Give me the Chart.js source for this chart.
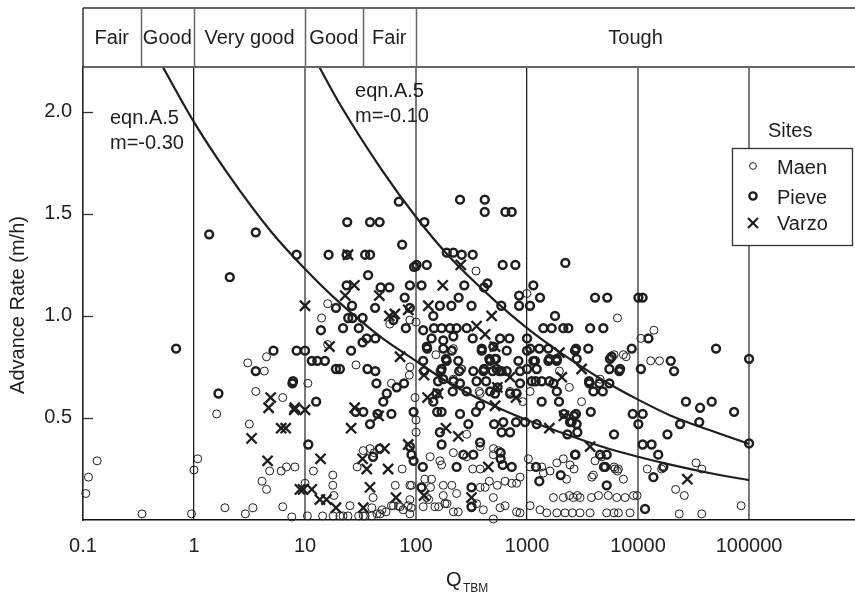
<!DOCTYPE html>
<html><head><meta charset="utf-8"><title>Advance rate vs Q_TBM</title>
<script src="https://cdn.jsdelivr.net/npm/chart.js@4.4.0/dist/chart.umd.min.js"></script>
<style>html,body{margin:0;background:#fff}#wrap{width:855px;height:597px;position:relative}</style>
</head><body><div id="wrap"><canvas id="c"></canvas></div>
<script>
// Advance rate vs Q_TBM (log), sites Maen / Pieve / Varzo + two eqn.A.5 curves
const X_TICKS=[0.1,1,10,100,1000,10000,100000];
const X_TICK_LABELS=['0.1','1','10','100','1000','10000','100000'];
const Y_TICKS=[0.5,1.0,1.5,2.0];
const HEAD_BOUNDS=[0.1,0.33,1,10,33,100,900000];
const HEAD_LABELS=['Fair','Good','Very good','Good','Fair','Tough'];

// curves
const LOW_Q=[0.5,1,2,5,10,20,50,100,200,500,1000,2000,5000,10000,20000,50000,100000];
const LOW_RATE=[2.24,1.95,1.70,1.41,1.23,1.07,0.89,0.78,0.67,0.56,0.49,0.43,0.355,0.31,0.27,0.224,0.195];
const UP_Q=[12,20,50,100,200,500,1000,2000,5000,10000,20000,50000,100000];
const UP_RATE=[2.27,2.05,1.71,1.485,1.29,1.08,0.94,0.82,0.68,0.59,0.51,0.43,0.373];

// [Q, advance rate]
const MAEN=[[0.134,0.29],[0.112,0.21],[0.106,0.13],[0.34,0.03],[0.95,0.03],[1.08,0.30],[1.0,0.245],[1.6,0.52],[1.9,0.06],[3.6,0.63],[3.15,0.47],[2.9,0.03],[3.4,0.06],[4.1,0.19],[4.5,0.15],[4.8,0.24],[6.3,0.60],[6.1,0.24],[6.8,0.26],[8.1,0.26],[6.3,0.065],[7.6,0.015],[3.05,0.77],[4.5,0.80],[4.3,0.73],
[10.6,0.67],[16,1.06],[14.1,0.99],[16,0.86],[28.8,0.76],[60,0.67],[58,0.96],[88,0.75],[87,0.71],[98,0.60],[100,0.49],[100,0.43],[88,0.98],[88,0.17],[88,0.10],
[10,0.18],[11.9,0.24],[17.8,0.22],[17.8,0.17],[18.2,0.12],[29.5,0.26],[33.5,0.34],[38.5,0.35],[42,0.33],[75,0.25],[65,0.17],[91,0.17],[41,0.11],
[10.5,0.02],[14.4,0.02],[17.9,0.02],[20.6,0.02],[22,0.02],[24.4,0.02],[30.4,0.02],[33.5,0.02],[34.8,0.02],[40,0.02],[47.5,0.03],[25.4,0.07],[40,0.06],[44.5,0.03],[49.4,0.05],[53.7,0.04],[60,0.07],[62.5,0.07],[69.5,0.07],[71.8,0.065],[76.5,0.05],[85,0.07],[88,0.03],[90.5,0.06],
[100,1.24],[347,1.22],[996,1.11],[100,0.97],[151,0.81],[217,0.84],[258,0.74],[371,0.63],[703,0.63],[254,0.74],[217,0.69],[378,0.62],[913,0.58],[286,0.42],[378,0.36],[498,0.35],[217,0.33],[286,0.31],[134,0.31],[164,0.29],[170,0.27],[324,0.25],[378,0.25],[497,0.32],[552,0.34],
[120,0.20],[138,0.20],[176,0.17],[210,0.17],[232,0.13],[135,0.16],[176,0.12],[378,0.16],[419,0.16],[457,0.19],[540,0.17],[634,0.19],[728,0.18],[805,0.18],[865,0.21],[497,0.11],[634,0.07],[805,0.04],
[116,0.065],[148,0.065],[182,0.08],[217,0.04],[316,0.06],[351,0.08],[404,0.05],[571,0.06],[865,0.035],[497,0.005],[125,0.11],[130,0.10],[160,0.065],[190,0.08],[240,0.04],
[1064,0.63],[1750,0.67],[1955,0.73],[2404,0.65],[6520,0.99],[3100,0.58],[4550,0.69],[6080,0.81],[7380,0.81],[7800,0.80],[1028,0.30],[1064,0.26],[1355,0.26],[1403,0.23],[1610,0.24],[1855,0.28],[2122,0.30],[2437,0.27],[2270,0.20],[2650,0.25],[1064,0.07],[1309,0.05],
[1503,0.035],[1855,0.035],[2198,0.035],[2560,0.035],[3000,0.035],[3700,0.035],[5220,0.035],[6080,0.035],[6650,0.035],[8470,0.035],
[1726,0.11],[2122,0.11],[2404,0.12],[2612,0.11],[2840,0.12],[3000,0.11],[3800,0.11],[4400,0.12],[5390,0.12],[6430,0.11],[7640,0.11],[9100,0.12],[9800,0.12],
[7380,0.20],[6080,0.26],[6650,0.25],[3830,0.21],[3960,0.22],[4710,0.31],[4100,0.29],[6200,0.25],[6520,0.24],
[13900,0.93],[10600,0.89],[13000,0.78],[15600,0.78],[33300,0.28],[37500,0.25],[12100,0.25],[16300,0.25],[21800,0.15],[26100,0.12],[84800,0.07],[23500,0.03],[37500,0.03]];

const PIEVE=[[0.69,0.84],[1.37,1.40],[3.6,1.41],[2.1,1.19],[1.66,0.62],[7.7,0.67],[8.4,1.30],[5.2,0.83],[8.4,0.83],[10,0.83],[3.6,0.73],[7.8,0.68],
[24,1.46],[38.5,1.46],[47,1.46],[75,1.35],[16.3,1.30],[23.7,1.30],[34.8,1.30],[38.5,1.30],[37,1.20],[23.7,1.15],[48,1.14],[57.5,1.14],[88,1.15],[19,1.04],[26.5,1.05],[24.5,0.99],[26.7,0.99],[33,0.99],[42.8,1.04],[22,0.94],[30.5,0.94],[13.9,0.93],[79,1.09],[88,1.04],[62.5,0.98],[81,0.94],[96,1.24],
[11.5,0.78],[12.9,0.78],[15.1,0.78],[33,0.87],[36,0.89],[43,0.89],[26,0.83],[19,0.74],[20.6,0.74],[36.5,0.74],[43,0.73],[44,0.67],[12.6,0.58],[54.5,0.62],[67,0.65],[78,0.67],[50.7,0.58],[28.6,0.53],[33.5,0.53],[38.5,0.47],[60,0.52],[45,0.52],[95,0.53],[10.7,0.37],[47,0.35],[41,0.31],[91,0.32],[88,0.36],[70,1.56],[95,0.29],[112,0.16],
[119,1.46],[101,1.25],[125,1.25],[189,1.31],[217,1.31],[258,1.30],[324,1.30],[603,1.25],[785,1.25],[249,1.57],[416,1.57],[416,1.51],[638,1.51],[728,1.51],[112,1.15],[272,1.15],[410,1.14],[440,1.16],[242,1.09],[164,1.05],[208,1.05],[316,1.05],[586,1.05],[848,1.10],[848,1.05],[143,1.0],
[116,0.93],[145,0.94],[170,0.94],[202,0.94],[232,0.94],[286,0.94],[324,0.89],[391,0.83],[571,0.89],[693,0.89],[1000,0.89],[1000,0.83],[138,0.89],[176,0.88],[217,0.90],[125,0.85],[176,0.84],[210,0.83],[497,0.85],[656,0.83],[836,0.78],[116,0.78],[189,0.78],[240,0.78],[328,0.73],[404,0.73],[532,0.74],[589,0.73],[865,0.73],[170,0.74],[176,0.69],[217,0.68],[249,0.67],[214,0.63],[286,0.63],[153,0.62],[465,0.63],[515,0.62],
[126,0.84],[391,0.84],[457,0.79],[515,0.79],[186,0.79],[410,0.74],[465,0.78],[525,0.79],[118,0.73],[167,0.73],[245,0.73],[490,0.73],[562,0.73],[656,0.73],[158,0.68],[351,0.68],[428,0.68],[543,0.65],[703,0.62],[805,0.62],[865,0.67],[143,0.58],[155,0.53],[170,0.53],[249,0.52],[347,0.53],[378,0.56],[505,0.47],[611,0.48],[796,0.48],[959,0.48],[164,0.43],[296,0.47],[378,0.38],[590,0.43],[703,0.43],[170,0.37],[267,0.32],[328,0.32],[578,0.33],[578,0.30],[603,0.27],[728,0.26],[115,0.26],[232,0.26],[316,0.16],[316,0.065],
[1064,1.05],[1309,1.09],[1140,1.15],[1786,1.0],[1403,0.94],[1667,0.94],[2122,0.94],[2355,0.94],[1180,0.78],[1556,0.78],[1853,0.78],[2704,0.83],[1102,0.68],[1355,0.68],[2213,1.26],[4100,1.09],[5280,1.09],[3700,0.94],[4870,0.94],[1070,0.84],[1290,0.84],[1556,0.84],[1855,0.79],[2760,0.84],[3560,0.84],[8770,0.84],[1140,0.78],[1222,0.74],[1588,0.79],[2800,0.79],[5580,0.79],[6770,0.73],[5780,0.80],[1000,0.74],[1195,0.68],[1588,0.68],[1726,0.67],[1855,0.63],[3620,0.68],[3960,0.63],[4810,0.63],[5520,0.74],
[1355,0.58],[1940,0.58],[2150,0.52],[1222,0.47],[2800,0.47],[2523,0.48],[2760,0.52],[3750,0.53],[6080,0.42],[2704,0.32],[4550,0.32],[5220,0.32],[5050,0.26],[1205,0.26],[2010,0.22],[5220,0.17],[1290,0.19],[3640,0.67],[4480,0.67],[5520,0.67],[8950,0.52],[2840,0.43],[2310,0.42],[2437,0.48],[2650,0.51],[2730,0.32],[4930,0.26],[6890,0.74],
[10070,1.09],[11000,1.09],[12400,0.89],[10600,0.74],[19700,0.78],[21100,0.73],[50400,0.84],[100000,0.79],[27000,0.58],[46100,0.58],[36200,0.55],[73300,0.53],[11000,0.52],[10070,0.47],[23900,0.47],[35600,0.48],[18400,0.42],[11000,0.37],[13250,0.37],[15200,0.32],[100000,0.375],[13750,0.21],[16900,0.26],[11560,0.054]];

const VARZO=[[4.9,0.60],[4.7,0.55],[8.1,0.55],[6.1,0.45],[6.7,0.45],[3.3,0.40],[4.6,0.29],[9,0.15],[10,1.05],[27.8,1.15],[23,1.10],[46.7,1.10],[57.5,1.0],[64.5,1.01],[85,1.03],[71.8,0.80],[16.6,0.85],[24.4,1.30],[8,0.54],[10,0.54],[13.8,0.30],[9.6,0.15],[11.5,0.15],[13.6,0.10],[15.6,0.10],[19,0.06],[33.5,0.06],[28,0.55],[26,0.45],[46,0.51],[52,0.35],[33,0.30],[36,0.25],[56,0.25],[38.5,0.16],[66,0.11],[85,0.37],
[253,1.25],[174,1.15],[480,1.0],[129,1.05],[351,0.95],[419,0.91],[515,0.85],[118,0.71],[703,0.70],[540,0.65],[796,0.60],[127,0.60],[158,0.62],[515,0.56],[1955,0.82],[3100,0.74],[2055,0.70],[2150,0.51],[186,0.45],[240,0.41],[1588,0.45],[3700,0.36],[448,0.26],[118,0.12],[316,0.11],[27800,0.20]];

const NOTES=[{q:0.175,r:1.94,lines:['eqn.A.5','m=-0.30']},{q:28.2,r:2.075,lines:['eqn.A.5','m=-0.10']}];
const FONT='"Liberation Sans", Arial, Helvetica, sans-serif';
const INK='#1e1e1e', GRAY='#7a7a7a';

const pts=d=>d.map(([x,y])=>({x,y}));
const curve=(qs,rs)=>({label:'eqn.A.5',data:qs.map((x,i)=>({x,y:rs[i]})),showLine:true,pointRadius:0,borderColor:INK,borderWidth:2.2,cubicInterpolationMode:'monotone'});
const sc=(label,data,o)=>({label,data:pts(data),clip:false,showLine:false,pointBorderColor:INK,pointBackgroundColor:'rgba(0,0,0,0)',...o});

function ln(ctx,x1,y1,x2,y2){ctx.beginPath();ctx.moveTo(x1,y1);ctx.lineTo(x2,y2);ctx.stroke();}
function mark(ctx,kind,x,y){
  ctx.strokeStyle=INK;
  if(kind==='x'){ctx.lineWidth=2.2;ln(ctx,x-5,y-5,x+5,y+5);ln(ctx,x-5,y+5,x+5,y-5);return;}
  ctx.lineWidth=kind==='bold'?2.4:1; ctx.beginPath(); ctx.arc(x,y,kind==='bold'?3.6:3.4,0,2*Math.PI); ctx.stroke();
}

const HEAD_TOP=8;
const frame={id:'frame',afterDraw(c){
  const {ctx,chartArea:a,scales:{x,y}}=c;
  ctx.save();
  // header strip
  ctx.strokeStyle='#666'; ctx.lineWidth=2;
  ln(ctx,a.left,HEAD_TOP,c.width,HEAD_TOP); ln(ctx,a.left,a.top,c.width,a.top);
  ctx.lineWidth=1.5;
  HEAD_BOUNDS.slice(1,-1).forEach(q=>{const px=Math.round(x.getPixelForValue(q))+0.5; ln(ctx,px,HEAD_TOP,px,a.top);});
  ctx.strokeStyle='#333'; ln(ctx,a.left,HEAD_TOP,a.left,a.top);
  ctx.fillStyle=INK; ctx.font='20px '+FONT; ctx.textAlign='center'; ctx.textBaseline='alphabetic';
  HEAD_LABELS.forEach((t,i)=>{
    const l=x.getPixelForValue(HEAD_BOUNDS[i]), r=Math.min(x.getPixelForValue(HEAD_BOUNDS[i+1]),a.right);
    ctx.fillText(t,(l+r)/2,44);
  });
  // inward y ticks
  ctx.strokeStyle='#333'; ctx.lineWidth=1.3;
  Y_TICKS.forEach(v=>{const py=Math.round(y.getPixelForValue(v))+0.5; ln(ctx,a.left,py,a.left+10,py);});
  // curve notes
  ctx.textAlign='left';
  NOTES.forEach(n=>{const px=x.getPixelForValue(n.q), py=y.getPixelForValue(n.r); n.lines.forEach((t,i)=>ctx.fillText(t,px,py+i*25));});
  // axis titles
  ctx.textAlign='center';
  ctx.save(); ctx.translate(17,305); ctx.rotate(-Math.PI/2); ctx.fillText('Advance Rate (m/h)',0,7); ctx.restore();
  ctx.textAlign='left'; ctx.fillText('Q',446,586);
  ctx.font='12px '+FONT; ctx.fillText('TBM',463,592);
  // legend
  ctx.font='20px '+FONT; ctx.fillText('Sites',768,137);
  ctx.fillStyle='#fff'; ctx.fillRect(732,148,120,97);
  ctx.strokeStyle='#333'; ctx.lineWidth=1.3; ctx.strokeRect(732.5,148.5,120,97);
  ctx.fillStyle=INK;
  [['Maen','thin',166,174],['Pieve','bold',196,204],['Varzo','x',223,230]].forEach(([t,k,my,by])=>{mark(ctx,k,753,my); ctx.fillText(t,777,by);});
  ctx.restore();
}};

new Chart(document.getElementById('c'),{
  type:'scatter',
  data:{datasets:[
    curve(LOW_Q,LOW_RATE),
    curve(UP_Q,UP_RATE),
    sc('Maen',MAEN,{pointStyle:'circle',pointRadius:4,pointBorderWidth:1}),
    sc('Pieve',PIEVE,{pointStyle:'circle',pointRadius:3.9,pointBorderWidth:2.5}),
    sc('Varzo',VARZO,{pointStyle:'crossRot',pointRadius:7.2,pointBorderWidth:2.3})
  ]},
  options:{
    responsive:true,maintainAspectRatio:false,animation:false,devicePixelRatio:1,
    layout:{autoPadding:false,padding:{top:67,left:0,right:0,bottom:0}},
    plugins:{legend:{display:false},tooltip:{enabled:false}},
    scales:{
      x:{type:'logarithmic',min:0.1,max:900000,
        afterBuildTicks:s=>{s.ticks=X_TICKS.map(v=>({value:v}));},
        afterFit:s=>{s.height=77; s.paddingLeft=0; s.paddingRight=0;},
        ticks:{autoSkip:false,maxRotation:0,padding:14,color:'#222',font:{size:20,family:FONT},callback:(v,i)=>X_TICK_LABELS[i]},
        grid:{drawTicks:false,
          color:c=>c.tick&&c.tick.value===0.1?'rgba(0,0,0,0)':(c.tick&&(c.tick.value===1||c.tick.value===1000)?'#222':GRAY),
          lineWidth:c=>c.tick&&(c.tick.value===1||c.tick.value===1000)?1.3:2},
        border:{color:'#111',width:1.6}},
      y:{min:0,max:2.22,
        afterBuildTicks:s=>{s.ticks=Y_TICKS.map(v=>({value:v}));},
        afterFit:s=>{s.width=83; s.paddingTop=0; s.paddingBottom=0;},
        ticks:{padding:11,color:'#222',font:{size:20,family:FONT},callback:v=>v.toFixed(1)},
        grid:{display:false,drawTicks:false},
        border:{color:'#222',width:1.6}}
    }
  },
  plugins:[frame]
});
</script></body></html>
